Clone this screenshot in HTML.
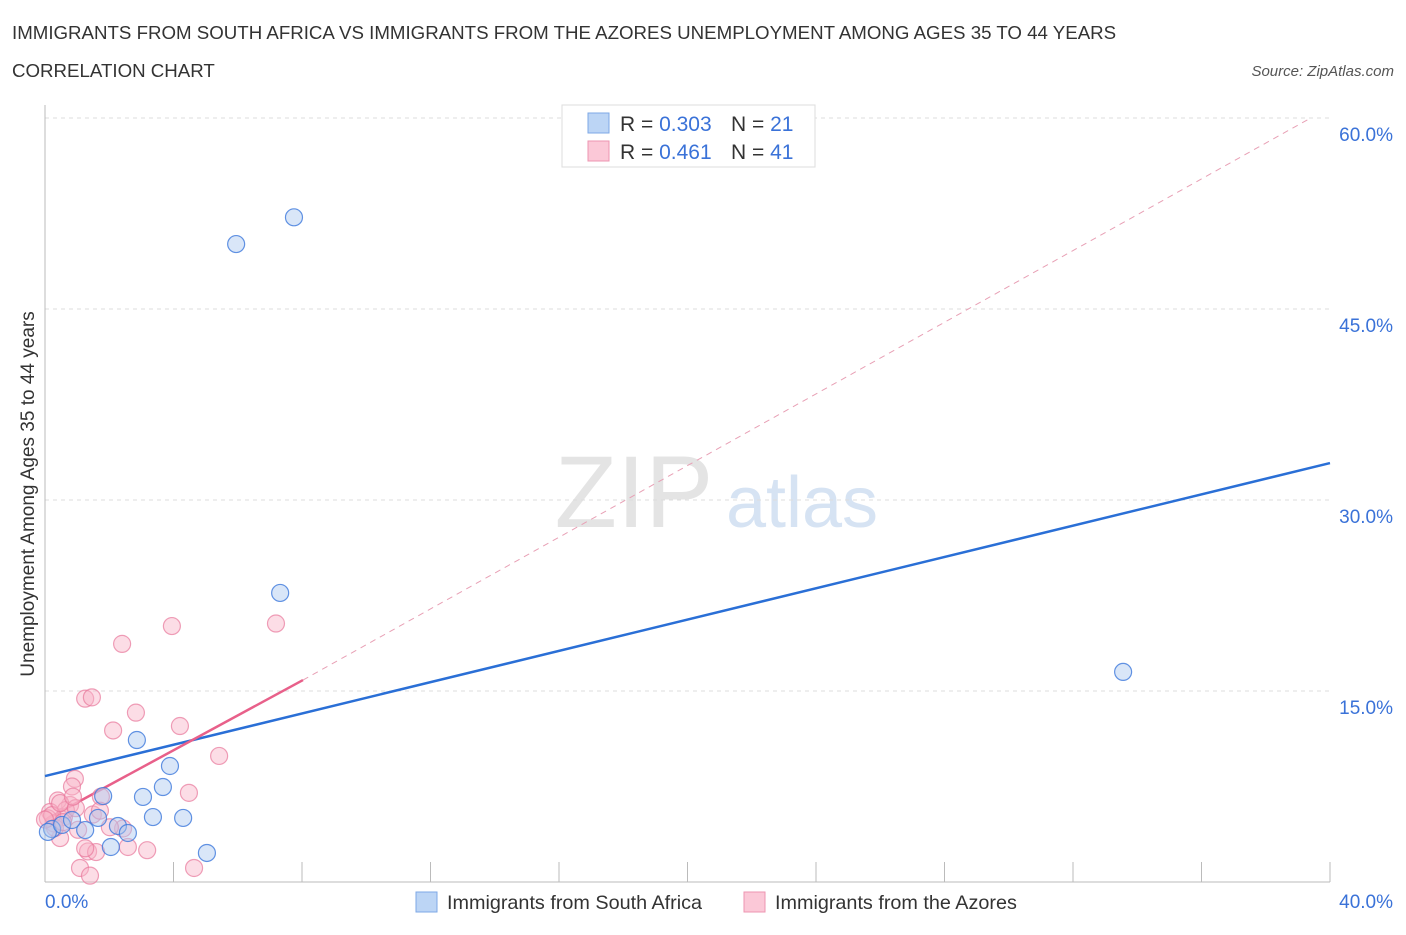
<!DOCTYPE html>
<html><head><meta charset="utf-8"><style>
body{margin:0;background:#fff;font-family:"Liberation Sans",sans-serif;}
svg text{font-family:"Liberation Sans",sans-serif;}
</style></head><body>
<svg id="chart" width="1406" height="930" xmlns="http://www.w3.org/2000/svg">
<text x="12" y="39" font-size="18.7" fill="#333">IMMIGRANTS FROM SOUTH AFRICA VS IMMIGRANTS FROM THE AZORES UNEMPLOYMENT AMONG AGES 35 TO 44 YEARS</text>
<text x="12" y="77" font-size="18.7" fill="#333">CORRELATION CHART</text>
<text x="1394" y="76" font-size="15" fill="#555" font-style="italic" text-anchor="end">Source: ZipAtlas.com</text>
<text x="634" y="527" font-size="102" fill="#e4e4e4" font-family="Liberation Serif" text-anchor="middle">ZIP</text>
<text x="802" y="527" font-size="72" fill="#d6e3f3" text-anchor="middle">atlas</text>
<g id="grid"></g>
<g id="axes"></g>
<g id="lines"></g>
<g id="pts"></g>
<text transform="translate(34,494) rotate(-90)" font-size="19" fill="#333" text-anchor="middle">Unemployment Among Ages 35 to 44 years</text>
<g>
<rect x="562" y="105" width="253" height="62" fill="#fff" stroke="#ddd"/>
<rect x="588" y="113" width="21" height="20" fill="#bcd5f5" stroke="#7ea8e6"/>
<text x="620" y="131" font-size="21" fill="#333">R = <tspan fill="#3a72d8">0.303</tspan></text>
<text x="731" y="131" font-size="21" fill="#333">N = <tspan fill="#3a72d8">21</tspan></text>
<rect x="588" y="141" width="21" height="20" fill="#fbc8d7" stroke="#ee95b0"/>
<text x="620" y="159" font-size="21" fill="#333">R =  <tspan fill="#3a72d8">0.461</tspan></text>
<text x="731" y="159" font-size="21" fill="#333">N = <tspan fill="#3a72d8">41</tspan></text>
</g>
<g>
<rect x="416" y="892" width="21" height="20" fill="#bcd5f5" stroke="#7ea8e6"/>
<text x="447" y="909" font-size="19.8" fill="#333">Immigrants from South Africa</text>
<rect x="744" y="892" width="21" height="20" fill="#fbc8d7" stroke="#ee95b0"/>
<text x="775" y="909" font-size="19.8" fill="#333">Immigrants from the Azores</text>
</g>
</svg>
<script>
const yTicks=[15,30,45,60];
const yTickLabels=["15.0%","30.0%","45.0%","60.0%"];
const xTickLabels=["0.0%","40.0%"];
const blueX=[5.95,7.75,7.32,33.56,2.86,3.89,3.67,3.05,1.81,3.36,4.30,2.27,2.58,1.25,2.05,5.04,0.22,0.09,0.53,1.65,0.84];
const blueY=[50.1,52.2,22.7,16.5,11.15,9.11,7.46,6.68,6.75,5.1,5.03,4.4,3.85,4.08,2.75,2.28,4.16,3.93,4.48,5.03,4.87];
const pinkX=[2.40,3.95,7.19,1.25,1.46,2.83,4.20,2.12,5.42,0.93,0.84,4.48,1.74,1.49,2.43,0.59,0.78,0.40,0.16,0.28,0.47,1.34,1.59,3.18,2.58,1.09,1.40,4.64,0.09,0.65,1.71,0.22,2.02,0.47,0.96,0.31,0.56,0.87,1.25,1.03,0];
const pinkY=[18.7,20.1,20.3,14.4,14.5,13.3,12.25,11.9,9.9,8.1,7.5,7.0,6.7,5.3,4.2,5.1,6.05,6.4,5.5,4.6,3.45,2.4,2.35,2.5,2.75,1.1,0.5,1.1,5.0,5.65,5.6,5.25,4.3,6.2,5.8,4.25,4.7,6.7,2.65,4.1,4.9];
const blueLine=[[0,8.32],[40,32.9]];
const pinkLine=[[0,4.87],[8.03,15.86]];
const pinkDash=[[8.03,15.86],[39.4,60]];
const NS="http://www.w3.org/2000/svg";
const X=v=>45+v/40*1285, Y=v=>882-v/15*191;
function mk(tag,attrs,parent){const e=document.createElementNS(NS,tag);for(const k in attrs)e.setAttribute(k,attrs[k]);document.getElementById(parent).appendChild(e);return e;}
yTicks.forEach((t,i)=>{
 const g=mk('line',{x1:45,x2:1330,y1:Y(t),y2:Y(t),stroke:'#ddd','stroke-dasharray':'4,4'},'grid');
 
 
 const tx=mk('text',{x:1393,y:Y(t)+23,'font-size':19,fill:'#3a72d8','text-anchor':'end'},'axes');
 tx.textContent=yTickLabels[i];
 
 
});
const ax=mk('line',{x1:45,x2:1330,y1:882,y2:882,stroke:'#bbb'},'axes');


const ay=mk('line',{x1:45,x2:45,y1:105,y2:882,stroke:'#bbb'},'axes');


for(let i=1;i<=10;i++){const t=mk('line',{x1:X(i*4),x2:X(i*4),y1:862,y2:882,stroke:'#bbb'},'axes');
 
 }
[[0,'start',45],[40,'end',1393]].forEach((d,i)=>{const t=mk('text',{x:d[2],y:908,'font-size':19,fill:'#3a72d8','text-anchor':d[1]},'axes');t.textContent=xTickLabels[i];
 
 });
function pts(xs,ys,fill,stroke,name){xs.forEach((x,i)=>{const c=mk('circle',{cx:X(x),cy:Y(ys[i]),r:8.5,fill:fill,stroke:stroke,'stroke-width':1.2},'pts');
 
 });}
pts(pinkX,pinkY,'rgba(248,180,200,0.45)','rgba(232,120,155,0.7)','azores-point');
pts(blueX,blueY,'rgba(170,200,240,0.45)','rgba(60,120,220,0.8)','south-africa-point');
const pd=mk('line',{x1:X(pinkDash[0][0]),y1:Y(pinkDash[0][1]),x2:X(pinkDash[1][0]),y2:Y(pinkDash[1][1]),stroke:'#e8a0b5','stroke-width':1,'stroke-dasharray':'6,5'},'lines');


const bl=mk('line',{x1:X(blueLine[0][0]),y1:Y(blueLine[0][1]),x2:X(blueLine[1][0]),y2:Y(blueLine[1][1]),stroke:'#2a6fd6','stroke-width':2.5},'lines');


const pl=mk('line',{x1:X(pinkLine[0][0]),y1:Y(pinkLine[0][1]),x2:X(pinkLine[1][0]),y2:Y(pinkLine[1][1]),stroke:'#e8608a','stroke-width':2.5},'lines');


</script>
</body></html>
